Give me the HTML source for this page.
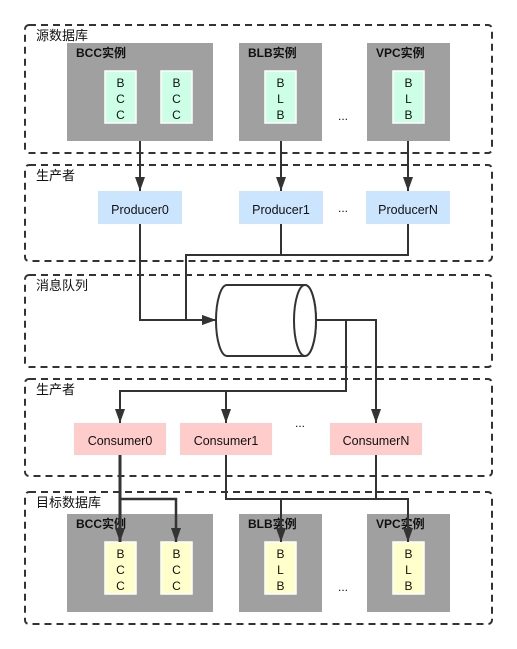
<!DOCTYPE html>
<html><head><meta charset="utf-8"><style>
html,body{margin:0;padding:0;background:#fff}
svg{display:block}
text{font-family:"Liberation Sans","Noto Sans CJK SC",sans-serif;fill:#111}
</style></head><body>
<svg width="517" height="649" viewBox="0 0 517 649" xmlns="http://www.w3.org/2000/svg">
<defs>
<marker id="a" viewBox="0 0 14 10" refX="14" refY="5" markerWidth="14" markerHeight="10" orient="auto" markerUnits="userSpaceOnUse"><path d="M0,0L14,5L0,10z" fill="#333"/></marker>
</defs>
<g fill="none" stroke="#333" stroke-width="2" stroke-dasharray="7,5">
<rect x="25" y="25" width="467" height="128" rx="4"/>
<rect x="25" y="165" width="467" height="96" rx="4"/>
<rect x="25" y="275" width="467" height="92" rx="4"/>
<rect x="25" y="379" width="467" height="97" rx="4"/>
<rect x="25" y="492" width="467" height="132" rx="4"/>
</g>
<g font-size="13">
<text x="36" y="40">源数据库</text>
<text x="36" y="180">生产者</text>
<text x="36" y="290">消息队列</text>
<text x="36" y="394">生产者</text>
<text x="36" y="507">目标数据库</text>
</g>
<g fill="#a0a0a0">
<rect x="67" y="43" width="146" height="98"/>
<rect x="239" y="43" width="83" height="98"/>
<rect x="367" y="43" width="83" height="98"/>
<rect x="67" y="514" width="146" height="98"/>
<rect x="239" y="514" width="83" height="98"/>
<rect x="367" y="514" width="83" height="98"/>
</g>
<g font-size="12" font-weight="bold">
<text x="76" y="57">BCC实例</text>
<text x="248" y="57">BLB实例</text>
<text x="376" y="57">VPC实例</text>
<text x="76" y="528">BCC实例</text>
<text x="248" y="528">BLB实例</text>
<text x="376" y="528">VPC实例</text>
</g>
<g stroke="#fff" stroke-width="1.5" fill="#ccffe6">
<rect x="105" y="71" width="31" height="52"/>
<rect x="161" y="71" width="31" height="52"/>
<rect x="265" y="71" width="31" height="52"/>
<rect x="393" y="71" width="31" height="52"/>
</g>
<g stroke="#fff" stroke-width="1.5" fill="#ffffcc">
<rect x="105" y="542" width="31" height="52"/>
<rect x="161" y="542" width="31" height="52"/>
<rect x="265" y="542" width="31" height="52"/>
<rect x="393" y="542" width="31" height="52"/>
</g>
<g font-size="12" text-anchor="middle">
<text x="120.5" y="87">B</text><text x="120.5" y="103">C</text><text x="120.5" y="119">C</text>
<text x="176.5" y="87">B</text><text x="176.5" y="103">C</text><text x="176.5" y="119">C</text>
<text x="280.5" y="87">B</text><text x="280.5" y="103">L</text><text x="280.5" y="119">B</text>
<text x="408.5" y="87">B</text><text x="408.5" y="103">L</text><text x="408.5" y="119">B</text>
<text x="120.5" y="558">B</text><text x="120.5" y="574">C</text><text x="120.5" y="590">C</text>
<text x="176.5" y="558">B</text><text x="176.5" y="574">C</text><text x="176.5" y="590">C</text>
<text x="280.5" y="558">B</text><text x="280.5" y="574">L</text><text x="280.5" y="590">B</text>
<text x="408.5" y="558">B</text><text x="408.5" y="574">L</text><text x="408.5" y="590">B</text>
<text x="343" y="120">...</text>
<text x="343" y="212">...</text>
<text x="300" y="427">...</text>
<text x="343" y="591">...</text>
</g>
<g fill="#cce5ff">
<rect x="98" y="191" width="84" height="33"/>
<rect x="239" y="191" width="84" height="33"/>
<rect x="366" y="191" width="84" height="33"/>
</g>
<g fill="#ffcccc">
<rect x="74" y="423" width="92" height="32"/>
<rect x="180" y="423" width="92" height="32"/>
<rect x="330" y="423" width="92" height="32"/>
</g>
<g font-size="12.5" text-anchor="middle">
<text x="140" y="214">Producer0</text>
<text x="281" y="214">Producer1</text>
<text x="408" y="214">ProducerN</text>
<text x="120" y="445">Consumer0</text>
<text x="226" y="445">Consumer1</text>
<text x="376" y="445">ConsumerN</text>
</g>
<g fill="none" stroke="#333" stroke-width="2" marker-end="url(#a)">
<path d="M140,141V191"/>
<path d="M281,141V191"/>
<path d="M408,141V191"/>
<path d="M140,224V320H216"/>
<path d="M281,224V255H186V320H216"/>
<path d="M408,224V255H281" marker-end="none"/>
<path d="M316,320H346V391H120V423"/>
<path d="M226,391V423"/>
<path d="M316,320H376V423"/>
<path d="M120,455V542" stroke-width="3"/>
<path d="M120,499H176V542" stroke-width="2.5"/>
<path d="M226,455V499H281V542"/>
<path d="M376,455V499H408V542"/>
<path d="M226,499H376" marker-end="none"/>
</g>
<g fill="#fff" stroke="#333" stroke-width="2">
<path d="M227,285H305A11,35.5 0 0 1 305,356H227A11,35.5 0 0 1 227,285Z"/>
<ellipse cx="305" cy="320.5" rx="11" ry="35.5"/>
</g>
</svg>
</body></html>
